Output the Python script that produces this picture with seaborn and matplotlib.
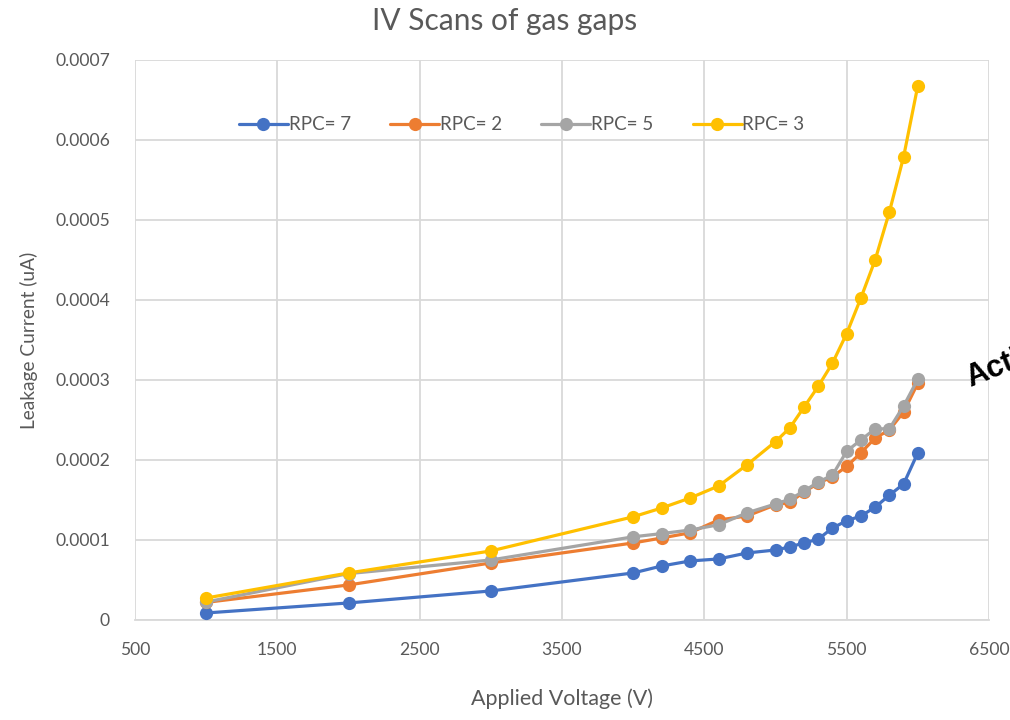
import matplotlib
matplotlib.use("Agg")
import matplotlib.pyplot as plt
import seaborn as sns
import pandas as pd

voltage = [1000, 2000, 3000, 4000, 4200, 4400, 4600, 4800, 5000, 5100,
           5200, 5300, 5400, 5500, 5600, 5700, 5800, 5900, 6000]
rpc7 = [0.0000088, 0.0000213, 0.0000363, 0.0000588, 0.0000675, 0.0000738, 0.0000763,
        0.0000838, 0.0000875, 0.0000913, 0.0000963, 0.000101, 0.000115, 0.000124,
        0.00013, 0.000141, 0.000156, 0.00017, 0.000209]
rpc2 = [0.000022, 0.0000438, 0.0000713, 0.0000963, 0.0001025, 0.000109, 0.000125,
        0.00013, 0.000144, 0.000147, 0.00016, 0.000171, 0.000179, 0.000192,
        0.000209, 0.0002275, 0.0002375, 0.00026, 0.000296]
rpc5 = [0.0000225, 0.000058, 0.000075, 0.000104, 0.000108, 0.0001125, 0.000119,
        0.000134, 0.000145, 0.000151, 0.000161, 0.0001725, 0.000181, 0.000211,
        0.000225, 0.000239, 0.000239, 0.0002675, 0.000301]
rpc3 = [0.0000275, 0.0000588, 0.0000863, 0.000129, 0.00014, 0.0001525, 0.0001675,
        0.000194, 0.000223, 0.00024, 0.000266, 0.000292, 0.000321, 0.000358,
        0.0004025, 0.00045, 0.00051, 0.000579, 0.000668]
series_names = ["RPC= 7", "RPC= 2", "RPC= 5", "RPC= 3"]
series_values = [rpc7, rpc2, rpc5, rpc3]
colors = ["#4472C4", "#ED7D31", "#A5A5A5", "#FFC000"]
x_ticks = [500, 1500, 2500, 3500, 4500, 5500, 6500]
y_ticks = [0, 0.0001, 0.0002, 0.0003, 0.0004, 0.0005, 0.0006, 0.0007]
y_tick_labels = ["0", "0.0001", "0.0002", "0.0003", "0.0004", "0.0005", "0.0006", "0.0007"]

sns.set_style("white")
plt.rcParams["font.family"] = ["Lato", "DejaVu Sans"]

fig = plt.figure(figsize=(10.1, 7.2), dpi=100)
ax = fig.add_axes([135 / 1010, 100 / 720, 854 / 1010, 560 / 720])

for name, vals, col in zip(series_names, series_values, colors):
    df = pd.DataFrame({"V": voltage, "I": vals})
    sns.lineplot(data=df, x="V", y="I", ax=ax, color=col, linewidth=2.3,
                 marker="o", markersize=9.5, markeredgewidth=0,
                 label=name, zorder=3)

ax.set_xlim(500, 6500)
ax.set_ylim(0, 0.0007)
ax.set_xticks(x_ticks)
ax.set_yticks(y_ticks)
ax.set_yticklabels(y_tick_labels)
ax.grid(True, color="#D9D9D9", linewidth=1.3)
ax.set_axisbelow(True)
for s in ["left", "top", "right"]:
    ax.spines[s].set_visible(False)
ax.spines["bottom"].set_color("#D9D9D9")
ax.spines["bottom"].set_linewidth(1.3)
ax.tick_params(axis="both", length=0, labelsize=12.6, labelcolor="#595959")
ax.tick_params(axis="x", pad=16)
ax.tick_params(axis="y", pad=18)

ax.set_xlabel("Applied Voltage (V)", fontsize=15.5, color="#595959", labelpad=22)
ax.set_ylabel("Leakage Current (uA)", fontsize=13.8, color="#595959", labelpad=12)
fig.suptitle("IV Scans of gas gaps", x=0.5, y=0.99, fontsize=21.5, color="#595959")

leg = ax.legend(loc="center", bbox_to_anchor=(0.453, 0.884), ncol=4,
                frameon=False, fontsize=13.5, handlelength=2.6, handletextpad=0.05,
                columnspacing=2.1)
for t in leg.get_texts():
    t.set_color("#595959")

fig.text(962 / 1010, 1 - 386 / 720, "Acti", rotation=22, fontsize=22,
         fontweight="bold", color="black", family="Liberation Sans",
         ha="left", va="baseline")

fig.savefig("out.png", dpi=100)
